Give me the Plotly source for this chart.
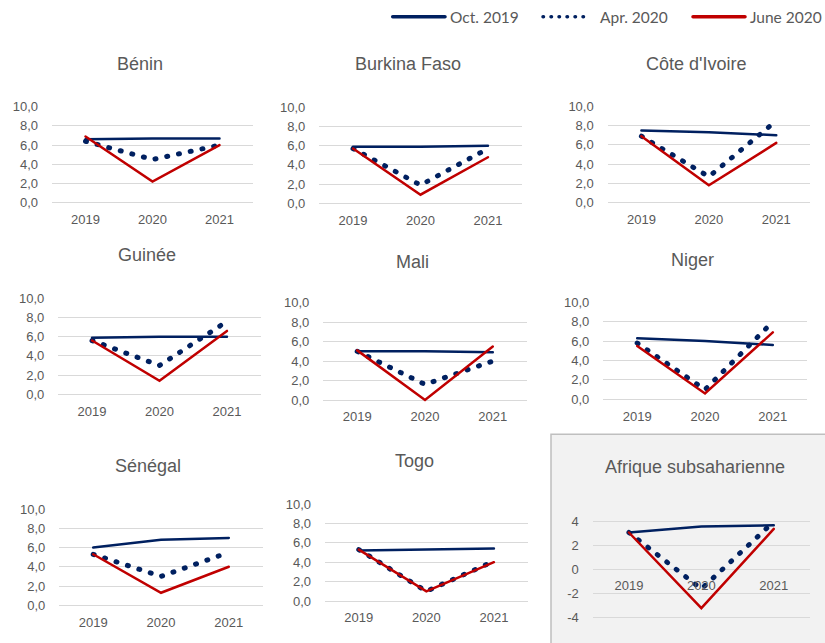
import plotly.graph_objects as go

W, H = 825, 643

years = ["2019", "2020", "2021"]
countries = ["Bénin", "Burkina Faso", "Côte d'Ivoire", "Guinée", "Mali", "Niger",
             "Sénégal", "Togo", "Afrique subsaharienne"]

# Growth projections (%), per country: [2019, 2020, 2021]
oct_2019 = [[6.6, 6.7, 6.7], [5.9, 5.9, 6.0], [7.5, 7.3, 7.0], [5.9, 6.0, 6.0], [5.0, 5.0, 4.9],
            [6.3, 6.0, 5.6], [6.0, 6.8, 7.0], [5.2, 5.3, 5.4], [3.1, 3.6, 3.7]]
apr_2020 = [[6.4, 4.5, 6.0], [5.7, 1.9, 5.7], [6.9, 2.7, 8.5], [5.6, 3.0, 7.6], [5.0, 1.6, 4.0],
            [5.8, 1.0, 8.0], [5.3, 3.0, 5.5], [5.3, 1.0, 4.1], [3.1, -1.6, 4.0]]
june_2020 = [[6.9, 2.2, 6.0], [5.7, 0.9, 4.8], [6.9, 1.8, 6.2], [5.6, 1.4, 6.6], [5.1, 0.0, 5.5],
             [5.5, 0.6, 6.9], [5.3, 1.3, 4.0], [5.3, 1.0, 4.0], [3.1, -3.2, 3.4]]

series_names = ["Oct. 2019", "Apr. 2020", "June 2020"]

y_ticks = [0, 2, 4, 6, 8, 10]
y_tick_labels = ["0,0", "2,0", "4,0", "6,0", "8,0", "10,0"]
ssa_ticks = [-4, -2, 0, 2, 4]
ssa_tick_labels = ["-4", "-2", "0", "2", "4"]

NAVY = "#002060"
RED = "#c00000"
GREY_TXT = "#595959"
GRID = "#d9d9d9"
FONT = "Liberation Sans, Arial, sans-serif"
DOTS = "1px,11px"

# layout geometry: (x_left, x_right, y_px_of_top_tick, y_px_of_bottom_tick, title_x, title_y)
geom = [
    (52.0, 253.0, 106.7, 202.7, 140.0, 64.0),
    (319.3, 521.7, 107.3, 203.3, 408.0, 64.0),
    (607.7, 810.0, 106.3, 202.7, 696.7, 64.0),
    (58.3, 260.7, 298.3, 394.3, 146.7, 255.0),
    (323.3, 526.7, 302.7, 400.0, 412.7, 261.7),
    (603.3, 806.7, 302.3, 399.3, 692.7, 260.0),
    (59.3, 262.7, 509.0, 605.3, 148.3, 466.0),
    (325.0, 527.7, 504.0, 601.0, 414.0, 460.7),
    (592.7, 810.0, 521.7, 617.7, 695.0, 466.7),
]

fig = go.Figure()
layout = dict(
    width=W, height=H,
    margin=dict(l=0, r=0, t=0, b=0, pad=0, autoexpand=False),
    paper_bgcolor="white", plot_bgcolor="rgba(0,0,0,0)",
    showlegend=False,
    separators=", ",
    font=dict(family=FONT, color=GREY_TXT),
    annotations=[], shapes=[],
)

# grey box behind the Sub-Saharan Africa panel
layout["shapes"].append(dict(type="rect", xref="paper", yref="paper",
                             x0=551 / W, x1=1.02, y0=-0.02, y1=1 - 434.3 / H,
                             fillcolor="#f2f2f2", line=dict(color="#bfbfbf", width=1.5),
                             layer="below"))

for i, name in enumerate(countries):
    x0, x1, ytp, ybp, tx, ty = geom[i]
    ssa = (i == 8)
    if ssa:
        vtop, vbot, lo, hi = 4.0, -4.0, -4.35, 4.35
        tv, tt = ssa_ticks, ssa_tick_labels
    else:
        vtop, vbot, lo, hi = 10.0, 0.0, -0.35, 10.0
        tv, tt = y_ticks, y_tick_labels
    ppu = (ybp - ytp) / (vtop - vbot)
    ylo_px = ybp + (vbot - lo) * ppu
    yhi_px = ytp - (hi - vtop) * ppu
    dom_y = [1 - ylo_px / H, 1 - yhi_px / H]
    dom_x = [x0 / W, x1 / W]
    n = i + 1
    xa = "x" if n == 1 else f"x{n}"
    ya = "y" if n == 1 else f"y{n}"
    xkey = "xaxis" if n == 1 else f"xaxis{n}"
    ykey = "yaxis" if n == 1 else f"yaxis{n}"

    for vals, sname, color, dash, width in [
        (oct_2019[i], series_names[0], NAVY, "solid", 2.5),
        (apr_2020[i], series_names[1], NAVY, DOTS, 5),
        (june_2020[i], series_names[2], RED, "solid", 2.5),
    ]:
        fig.add_trace(go.Scatter(x=years, y=vals, name=sname, mode="lines",
                                 line=dict(color=color, width=width, dash=dash),
                                 xaxis=xa, yaxis=ya, hoverinfo="x+y+name"))

    xax = dict(domain=dom_x, type="category", range=[-0.5, 2.5], showgrid=False,
               showline=False, zeroline=False, ticks="", anchor=ya, automargin=False,
               tickfont=dict(size=13, color=GREY_TXT, family=FONT), ticklabelstandoff=4)
    if ssa:
        zero_px = ybp + (vbot - 0) * ppu
        xax.update(anchor="free", position=1 - zero_px / H, ticklabelstandoff=6)
    layout[xkey] = xax
    layout[ykey] = dict(domain=dom_y, range=[lo, hi], tickvals=tv, ticktext=tt,
                        showgrid=True, gridcolor=GRID, gridwidth=1.2, zeroline=False,
                        showline=False, ticks="", anchor=xa, ticklabelstandoff=13,
                        automargin=False,
                        tickfont=dict(size=13, color=GREY_TXT, family=FONT))
    layout["annotations"].append(dict(text=name, xref="paper", yref="paper",
                                      x=tx / W, y=1 - ty / H, xanchor="center", yanchor="middle",
                                      showarrow=False,
                                      font=dict(size=18, color=GREY_TXT, family=FONT)))

# legend drawn at the top right
LEG_FONT = "Lato, Carlito, Calibri, sans-serif"
leg_y = 1 - 16.7 / H
leg_items = [(392.7, 445.0, 448.0, NAVY, "solid", 3.5),
             (543.0, 590.0, 598.0, NAVY, "0.5px,7.5px", 3.5),
             (693.0, 745.0, 748.0, RED, "solid", 3.5)]
for (lx0, lx1, ltx, col, dsh, lw), sname in zip(leg_items, series_names):
    layout["shapes"].append(dict(type="line", xref="paper", yref="paper",
                                 x0=lx0 / W, x1=lx1 / W, y0=leg_y, y1=leg_y,
                                 line=dict(color=col, width=lw, dash=dsh)))
    layout["annotations"].append(dict(text=sname, xref="paper", yref="paper",
                                      x=ltx / W, y=leg_y, xanchor="left", yanchor="middle",
                                      showarrow=False,
                                      font=dict(size=15.5, color=GREY_TXT, family=LEG_FONT)))

fig.update_layout(**layout)

page_fix = (
    "document.body.style.margin='0';"
    "var s=document.createElement('style');"
    "s.textContent='.scatterlayer path.js-line, .shapelayer path{stroke-linecap:round;}';"
    "document.head.appendChild(s);"
)
fig.write_html("out.html", post_script=page_fix, config={"displayModeBar": False})
